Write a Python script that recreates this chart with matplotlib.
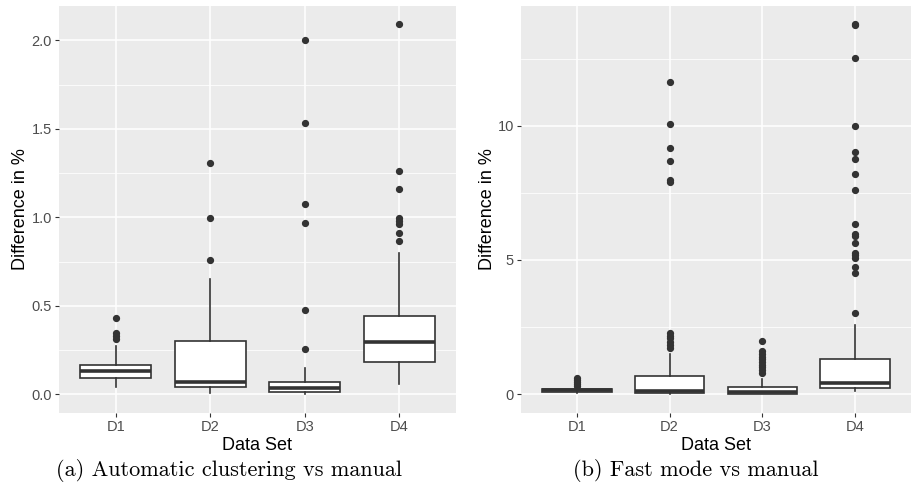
import matplotlib

matplotlib.use('Agg')

import matplotlib.pyplot as plt
from matplotlib.ticker import MultipleLocator

plt.rcParams['font.family'] = ['Liberation Sans', 'DejaVu Sans']

labels = ['D1', 'D2', 'D3', 'D4']

# (a) automatic clustering vs manual
med_a = [0.130, 0.071, 0.036, 0.294]
q1_a = [0.090, 0.043, 0.011, 0.182]
q3_a = [0.166, 0.303, 0.071, 0.444]
wlo_a = [0.040, 0.006, 0.000, 0.058]
whi_a = [0.273, 0.653, 0.147, 0.797]
fliers_a = [
    [0.429, 0.345, 0.330, 0.315],
    [0.757, 0.998, 1.307],
    [0.256, 0.478, 0.970, 1.075, 1.535, 2.002],
    [0.868, 0.910, 0.962, 0.980, 0.995, 1.162, 1.262, 2.090],
]

# (b) fast mode vs manual
med_b = [0.14, 0.12, 0.07, 0.41]
q1_b = [0.10, 0.05, 0.01, 0.22]
q3_b = [0.19, 0.68, 0.28, 1.31]
wlo_b = [0.05, 0.00, 0.00, 0.12]
whi_b = [0.26, 1.50, 0.56, 2.56]
fliers_b = [
    [0.30, 0.38, 0.45, 0.52, 0.60],
    [1.72, 1.82, 1.95, 2.08, 2.18, 2.28, 7.92, 7.98, 8.70, 9.17, 10.08, 11.63],
    [0.80, 0.90, 1.00, 1.10, 1.20, 1.30, 1.40, 1.50, 1.60, 2.00],
    [3.02, 4.51, 4.73, 5.08, 5.18, 5.25, 5.65, 5.88, 5.96, 6.34, 7.61, 8.20,
     8.76, 9.01, 9.99, 12.52, 13.74, 13.78],
]

DARK = '#333333'


def draw_panel(ax, med, q1, q3, wlo, whi, fliers, ylim, major, minor, fmt):
    stats = []
    for i in range(len(labels)):
        stats.append(dict(med=med[i], q1=q1[i], q3=q3[i], whislo=wlo[i],
                          whishi=whi[i], fliers=fliers[i], label=labels[i]))
    ax.set_facecolor('#EBEBEB')
    ax.bxp(stats, positions=[1, 2, 3, 4], widths=0.75, patch_artist=True,
           showcaps=False,
           boxprops=dict(facecolor='white', edgecolor=DARK, linewidth=1.2),
           medianprops=dict(color=DARK, linewidth=2.6),
           whiskerprops=dict(color=DARK, linewidth=1.2),
           flierprops=dict(marker='o', markerfacecolor=DARK, markeredgecolor=DARK,
                           markersize=4.2, linestyle='none'))
    ax.set_xlim(0.4, 4.6)
    ax.set_ylim(*ylim)
    ax.yaxis.set_major_locator(MultipleLocator(major))
    ax.yaxis.set_minor_locator(MultipleLocator(minor))
    ax.yaxis.set_major_formatter(fmt)
    ax.set_axisbelow(True)
    ax.grid(True, which='major', color='white', linewidth=1.1)
    ax.grid(True, which='minor', axis='y', color='white', linewidth=0.55)
    for s in ax.spines.values():
        s.set_visible(False)
    ax.tick_params(which='major', length=3, width=0.8, color=DARK, labelsize=10.5,
                   labelcolor='#4D4D4D', pad=2)
    ax.tick_params(which='minor', length=0)
    ax.set_xlabel('Data Set', fontsize=13, labelpad=2)
    ax.set_ylabel('Difference in %', fontsize=13, labelpad=1.5)


fig = plt.figure(figsize=(9.12, 4.94), dpi=100)
ax1 = fig.add_axes([59 / 912, 1 - 413 / 494, (456 - 59) / 912, (413 - 6) / 494])
ax2 = fig.add_axes([521 / 912, 1 - 413 / 494, (911 - 521) / 912, (413 - 6) / 494])

draw_panel(ax1, med_a, q1_a, q3_a, wlo_a, whi_a, fliers_a, (-0.106, 2.194),
           0.5, 0.25, '{x:.1f}')
draw_panel(ax2, med_b, q1_b, q3_b, wlo_b, whi_b, fliers_b, (-0.70, 14.46),
           5, 2.5, '{x:.0f}')

fig.text(229 / 912, 1 - 471 / 494, '(a) Automatic clustering vs manual',
         family='cmr10', fontsize=16, ha='center', va='center')
fig.text(696 / 912, 1 - 471 / 494, '(b) Fast mode vs manual',
         family='cmr10', fontsize=16, ha='center', va='center')

fig.savefig('out.png', dpi=100)
